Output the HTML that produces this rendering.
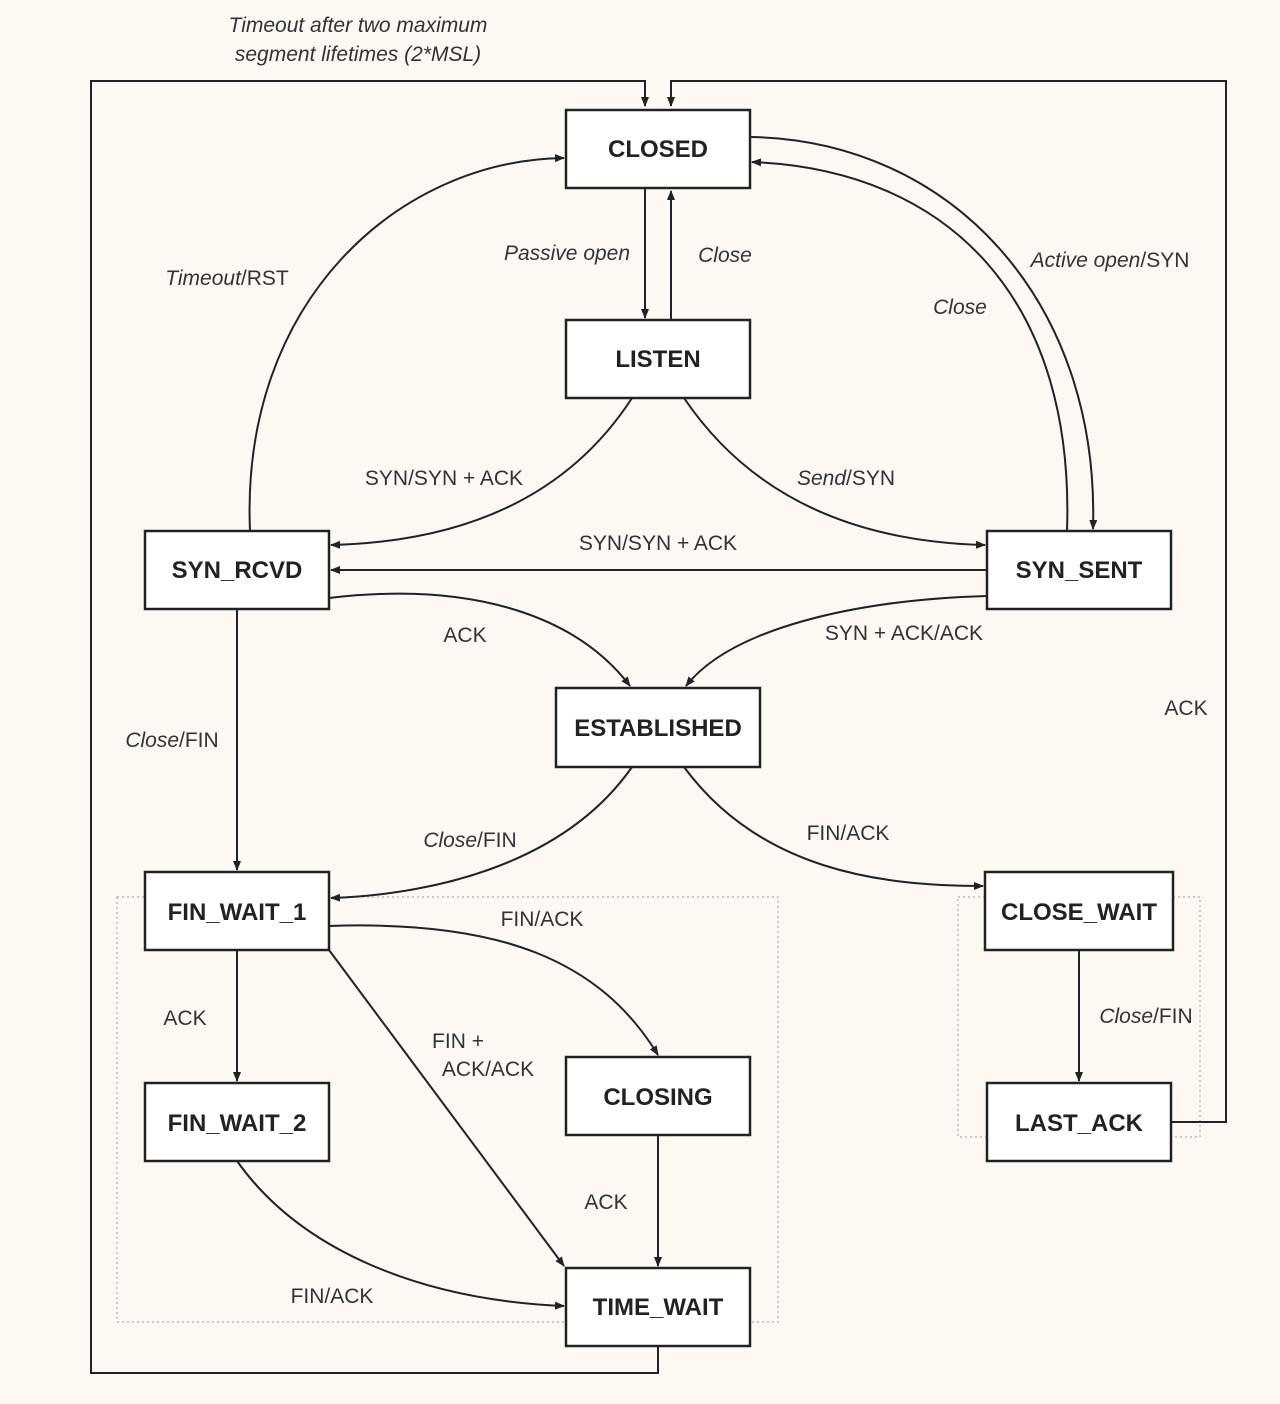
<!DOCTYPE html>
<html><head><meta charset="utf-8"><style>
html,body{margin:0;padding:0;background:#fdf8f1;}
svg{display:block}
text{font-family:"Liberation Sans",sans-serif;fill:#333;font-size:21px}
.b{font-weight:bold;font-size:24px;fill:#222}
.i{font-style:italic}
</style></head><body>
<svg width="1280" height="1404" viewBox="0 0 1280 1404" xmlns="http://www.w3.org/2000/svg">
<defs><marker id="a" markerWidth="10" markerHeight="10" refX="9" refY="5" orient="auto" markerUnits="userSpaceOnUse"><path d="M0,1 L10,5 L0,9 z" fill="#222"/></marker></defs>
<rect width="1280" height="1404" fill="#fdf8f1"/>
<g fill="none" stroke="#bbb" stroke-width="1.5" stroke-dasharray="2,3">
<rect x="117" y="897" width="661" height="425"/>
<rect x="958" y="897" width="242" height="240"/>
</g>
<g fill="none" stroke="#222" stroke-width="2">
<path d="M658,1346 V1373 H91 V81 H645 V106" marker-end="url(#a)"/>
<path d="M1171,1122 H1226 V81 H671 V106" marker-end="url(#a)"/>
<path d="M645,188 V318" marker-end="url(#a)"/>
<path d="M671,320 V191" marker-end="url(#a)"/>
<path d="M250,531 C240,300 400,160 564,158" marker-end="url(#a)"/>
<path d="M750,137 C950,140 1100,300 1093,529" marker-end="url(#a)"/>
<path d="M1067,531 C1075,300 950,170 752,162" marker-end="url(#a)"/>
<path d="M632,398 Q540,540 331,545" marker-end="url(#a)"/>
<path d="M684,398 Q780,540 985,545" marker-end="url(#a)"/>
<path d="M987,570 H331" marker-end="url(#a)"/>
<path d="M329,598 C480,580 580,620 630,686" marker-end="url(#a)"/>
<path d="M987,596 C850,600 730,630 686,686" marker-end="url(#a)"/>
<path d="M237,609 V870" marker-end="url(#a)"/>
<path d="M632,767 C560,870 420,895 331,898" marker-end="url(#a)"/>
<path d="M684,767 C760,870 880,886 983,886" marker-end="url(#a)"/>
<path d="M329,926 C500,920 600,960 658,1055" marker-end="url(#a)"/>
<path d="M329,950 L564,1266" marker-end="url(#a)"/>
<path d="M237,950 V1081" marker-end="url(#a)"/>
<path d="M237,1161 C300,1250 420,1300 564,1306" marker-end="url(#a)"/>
<path d="M658,1135 V1266" marker-end="url(#a)"/>
<path d="M1079,950 V1081" marker-end="url(#a)"/>
</g>
<g fill="#fff" stroke="#222" stroke-width="2.5">
<rect x="566" y="110" width="184" height="78"/>
<rect x="566" y="320" width="184" height="78"/>
<rect x="145" y="531" width="184" height="78"/>
<rect x="987" y="531" width="184" height="78"/>
<rect x="556" y="688" width="204" height="79"/>
<rect x="145" y="872" width="184" height="78"/>
<rect x="985" y="872" width="188" height="78"/>
<rect x="145" y="1083" width="184" height="78"/>
<rect x="566" y="1057" width="184" height="78"/>
<rect x="987" y="1083" width="184" height="78"/>
<rect x="566" y="1268" width="184" height="78"/>
</g>
<g text-anchor="middle">
<text class="b" x="658" y="157">CLOSED</text>
<text class="b" x="658" y="367">LISTEN</text>
<text class="b" x="237" y="578">SYN_RCVD</text>
<text class="b" x="1079" y="578">SYN_SENT</text>
<text class="b" x="658" y="736">ESTABLISHED</text>
<text class="b" x="237" y="920">FIN_WAIT_1</text>
<text class="b" x="1079" y="920">CLOSE_WAIT</text>
<text class="b" x="237" y="1131">FIN_WAIT_2</text>
<text class="b" x="658" y="1105">CLOSING</text>
<text class="b" x="1079" y="1131">LAST_ACK</text>
<text class="b" x="658" y="1315">TIME_WAIT</text>
<text class="i" x="358" y="32">Timeout after two maximum</text>
<text class="i" x="358" y="61">segment lifetimes (2*MSL)</text>
<text class="i" x="567" y="260">Passive open</text>
<text class="i" x="725" y="262">Close</text>
<text x="227" y="285"><tspan class="i">Timeout</tspan>/RST</text>
<text x="1110" y="267"><tspan class="i">Active open</tspan>/SYN</text>
<text class="i" x="960" y="314">Close</text>
<text x="444" y="485">SYN/SYN + ACK</text>
<text x="846" y="485"><tspan class="i">Send</tspan>/SYN</text>
<text x="658" y="550">SYN/SYN + ACK</text>
<text x="465" y="642">ACK</text>
<text x="904" y="640">SYN + ACK/ACK</text>
<text x="1186" y="715">ACK</text>
<text x="172" y="747"><tspan class="i">Close</tspan>/FIN</text>
<text x="470" y="847"><tspan class="i">Close</tspan>/FIN</text>
<text x="848" y="840">FIN/ACK</text>
<text x="542" y="926">FIN/ACK</text>
<text x="185" y="1025">ACK</text>
<text x="458" y="1048">FIN +</text>
<text x="488" y="1076">ACK/ACK</text>
<text x="1146" y="1023"><tspan class="i">Close</tspan>/FIN</text>
<text x="606" y="1209">ACK</text>
<text x="332" y="1303">FIN/ACK</text>
</g>
</svg>
</body></html>
